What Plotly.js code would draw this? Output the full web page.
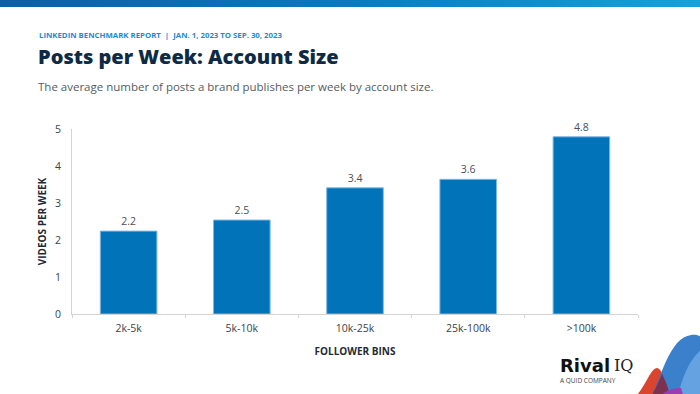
<!DOCTYPE html>
<html>
<head>
<meta charset="utf-8">
<script src="https://cdn.plot.ly/plotly-3.0.1.min.js"></script>
<style>
html,body{margin:0;padding:0;background:#fff;}
#wrap{position:relative;width:700px;height:394px;overflow:hidden;}
#topbar{position:absolute;left:0;top:0;width:700px;height:7px;background:linear-gradient(90deg,#0a5fa8 0%,#0b79c2 50%,#1aa0dc 100%);z-index:5;}
#chart{position:absolute;left:0;top:0;width:700px;height:394px;}
</style>
</head>
<body>
<div id="wrap"><div id="chart"></div><div id="topbar"></div></div>
<script>
const categories = ["2k-5k", "5k-10k", "10k-25k", "25k-100k", ">100k"];
const postsPerWeek = [2.24, 2.54, 3.41, 3.64, 4.79];
const valueLabels = ["2.2", "2.5", "3.4", "3.6", "4.8"];
const yTicks = [0, 1, 2, 3, 4, 5];

const W = 700, H = 394;
const mL = 72, mR = 62, mT = 129, mB = 80;
const pw = W - mL - mR, ph = H - mT - mB;
function fx(x){ return ((x - mL) / pw).toFixed(4); }
function fy(y){ return ((H - mB - y) / ph).toFixed(4); }
function P(pts){
  return pts.map(p => fx(p[0]) + ',' + fy(p[1])).join(' ');
}

const shapes = [
  // red wave
  {type:'path', xref:'paper', yref:'paper', layer:'above', line:{width:0},
   fillcolor:'#d9452e',
   path: 'M' + P([[637,395]]) + ' C' + P([[646,385],[651,368],[657,368]]) + ' C' + P([[662,368],[666,384],[670,395]]) + ' Z'},
  // blue wave (dark)
  {type:'path', xref:'paper', yref:'paper', layer:'above', line:{width:0},
   fillcolor:'#3079c8', opacity:0.95,
   path: 'M' + P([[652,395]]) + ' C' + P([[662,375],[670,338],[691,335]]) + ' C' + P([[697,334],[700,336],[702,338]]) + ' L' + P([[702,395]]) + ' Z'},
  // maroon overlap
  {type:'path', xref:'paper', yref:'paper', layer:'above', line:{width:0},
   fillcolor:'#7d3050',
   path: 'M' + P([[652,395]]) + ' C' + P([[656,388],[659,381],[662,374]]) + ' C' + P([[665,380],[668,387],[670,395]]) + ' Z'},
  // light blue wave
  {type:'path', xref:'paper', yref:'paper', layer:'above', line:{width:0},
   fillcolor:'#64a2e2',
   path: 'M' + P([[678,395]]) + ' C' + P([[682,380],[688,360],[702,349]]) + ' L' + P([[702,395]]) + ' Z'},
  // purple bottom
  {type:'path', xref:'paper', yref:'paper', layer:'above', line:{width:0},
   fillcolor:'#9a3db3',
   path: 'M' + P([[662,395]]) + ' C' + P([[667,390],[673,388],[681,388]]) + ' L' + P([[683,395]]) + ' Z'}
];

const annotations = [
  {text:'LINKEDIN BENCHMARK REPORT  |  JAN. 1, 2023 TO SEP. 30, 2023', xref:'paper', yref:'paper',
   x: fx(37), y: fy(35), xanchor:'left', yanchor:'middle', showarrow:false,
   font:{family:'"Open Sans", sans-serif', size:7.8, color:'#1b8bd3', weight:700}},
  {text:'Posts per Week: Account Size', xref:'paper', yref:'paper',
   x: fx(36), y: fy(57), xanchor:'left', yanchor:'middle', showarrow:false,
   font:{family:'"Open Sans", sans-serif', size:20, color:'#0e2a44', weight:800}},
  {text:'The average number of posts a brand publishes per week by account size.', xref:'paper', yref:'paper',
   x: fx(36), y: fy(86), xanchor:'left', yanchor:'middle', showarrow:false,
   font:{family:'"Open Sans", sans-serif', size:11.5, color:'#555b61'}},
  {text:'Rival', xref:'paper', yref:'paper',
   x: fx(558), y: fy(365), xanchor:'left', yanchor:'middle', showarrow:false,
   font:{family:'"DejaVu Sans", sans-serif', size:18, color:'#111', weight:700}},
  {text:'IQ', xref:'paper', yref:'paper',
   x: fx(612), y: fy(365), xanchor:'left', yanchor:'middle', showarrow:false,
   font:{family:'"DejaVu Serif", serif', size:16, color:'#222'}},
  {text:'A QUID COMPANY', xref:'paper', yref:'paper',
   x: fx(558), y: fy(380), xanchor:'left', yanchor:'middle', showarrow:false,
   font:{family:'"Open Sans", sans-serif', size:6.5, color:'#444'}}
];

const trace = {
  type:'bar',
  x: categories,
  y: postsPerWeek,
  text: valueLabels,
  textposition:'outside',
  texttemplate:'%{text}',
  cliponaxis:false,
  textfont:{family:'"Open Sans", sans-serif', size:10.5, color:'#4a5058'},
  marker:{color:'#0073b9', line:{color:'#7fb8e6', width:1}},
  width:0.5,
  hoverinfo:'none'
};

const layout = {
  width:W, height:H,
  margin:{l:mL, r:mR, t:mT, b:mB, pad:0},
  paper_bgcolor:'#fff', plot_bgcolor:'#fff',
  showlegend:false,
  font:{family:'"Open Sans", sans-serif'},
  xaxis:{
    type:'category',
    showline:true, linecolor:'#d4d4d4', linewidth:1,
    ticks:'outside', tickson:'boundaries', ticklen:3, tickcolor:'#d4d4d4',
    ticklabelstandoff:4,
    tickfont:{size:10.5, color:'#3c434a'},
    showgrid:false, zeroline:false,
    title:{text:'FOLLOWER BINS', font:{size:10, color:'#1f2a35', weight:700}, standoff:14}
  },
  yaxis:{
    range:[0,5], tickvals:yTicks, ticktext:yTicks.map(String),
    showline:true, linecolor:'#d4d4d4', linewidth:1,
    showgrid:false, zeroline:false, ticks:'', ticklabelstandoff:8,
    tickfont:{size:10.5, color:'#3c434a'},
    title:{text:'VIDEOS PER WEEK', font:{size:10, color:'#1f2a35', weight:700}, standoff:6}
  },
  shapes: shapes,
  annotations: annotations
};

Plotly.newPlot('chart', [trace], layout, {displayModeBar:false, staticPlot:true});
</script>
</body>
</html>
